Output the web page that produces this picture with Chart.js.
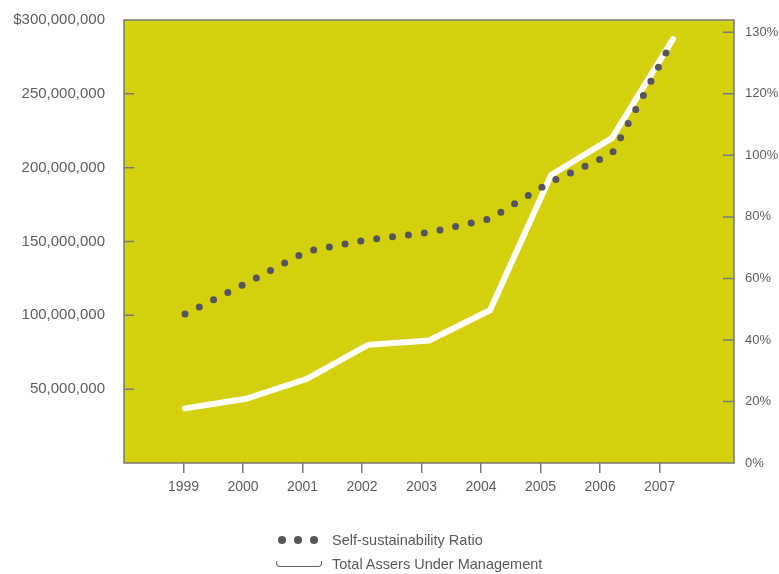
<!DOCTYPE html>
<html>
<head>
<meta charset="utf-8">
<script src="https://cdn.jsdelivr.net/npm/chart.js@4.4.1/dist/chart.umd.min.js"></script>
<style>
  body { margin: 0; background: #fff; }
  #wrap { position: relative; width: 779px; height: 574px; }
  #legend { position: absolute; left: 274px; top: 528px; font-family: "Liberation Sans", Arial, sans-serif; font-size: 14.5px; color: #5a5a5a; }
  .row { display: flex; align-items: center; height: 24px; }
  .sym { width: 58px; display: flex; align-items: center; }
  .dot { width: 8px; height: 8px; border-radius: 50%; background: #55555c; margin: 0 4px; }
  .bar { width: 44px; height: 5px; margin-left: 2px; border: 1.5px solid #666; border-top: none; border-radius: 0 0 4px 4px; background: #fff; }
</style>
</head>
<body>
<div id="wrap">
  <canvas id="chart"></canvas>
  <div id="legend">
    <div class="row"><div class="sym"><span class="dot"></span><span class="dot"></span><span class="dot"></span></div>Self-sustainability Ratio</div>
    <div class="row"><div class="sym"><span class="bar"></span></div>Total Assers Under Management</div>
  </div>
</div>
<script>
// data
const years = [1999, 2000, 2001, 2002, 2003, 2004, 2005, 2006, 2007];
const ratioPct = [48.4, 58.4, 68.8, 72.6, 74.9, 79.4, 91.4, 100.5, 137.5];
const assetsUsd = [37000000, 43500000, 57000000, 80000000, 83000000, 103500000, 195000000, 220000000, 287000000];

const leftTicks = [0, 50000000, 100000000, 150000000, 200000000, 250000000, 300000000];
const rightTicks = [0, 20, 40, 60, 80, 100, 120, 140];
const rightTickLabels = ['0%', '20%', '40%', '60%', '80%', '100%', '120%', '130%'];

const PLOT_BG = '#d4d00e';
const AXIS_GREY = '#787878';
const TEXT_GREY = '#5e5e5e';
const DOT_GREY = '#55555f';

const plotFrame = {
  id: 'plotFrame',
  beforeDraw(chart) {
    const { ctx, chartArea: a } = chart;
    ctx.save();
    ctx.fillStyle = PLOT_BG;
    ctx.fillRect(a.left, a.top, a.right - a.left, a.bottom - a.top);
    ctx.restore();
  },
  beforeDatasetsDraw(chart) {
    const { ctx, chartArea: a, scales } = chart;
    ctx.save();
    ctx.strokeStyle = AXIS_GREY;
    ctx.lineWidth = 1.5;
    ctx.strokeRect(a.left, a.top, a.right - a.left, a.bottom - a.top);
    // inward ticks on both value axes
    ctx.beginPath();
    scales.y.ticks.forEach(t => {
      if (t.value === 0 || t.value === scales.y.max) return;
      const py = scales.y.getPixelForValue(t.value);
      ctx.moveTo(a.left, py); ctx.lineTo(a.left + 10, py);
    });
    scales.y1.ticks.forEach(t => {
      if (t.value === 0) return;
      const py = scales.y1.getPixelForValue(t.value);
      ctx.moveTo(a.right - 11, py); ctx.lineTo(a.right, py);
    });
    ctx.stroke();
    ctx.restore();
  }
};

const FONT = '"Liberation Sans", Arial, sans-serif';

new Chart(document.getElementById('chart'), {
  type: 'line',
  data: {
    datasets: [
      {
        label: 'Self-sustainability Ratio',
        data: years.map((y, i) => ({ x: y, y: ratioPct[i] })),
        yAxisID: 'y1',
        borderColor: DOT_GREY,
        borderWidth: 7,
        borderCapStyle: 'round',
        borderDash: [0, 16],
        pointRadius: 0,
        tension: 0
      },
      {
        label: 'Total Assers Under Management',
        data: years.map((y, i) => ({ x: y, y: assetsUsd[i] })),
        yAxisID: 'y',
        borderColor: '#ffffff',
        borderWidth: 6,
        borderCapStyle: 'round',
        pointRadius: 0,
        tension: 0
      }
    ]
  },
  options: {
    responsive: true,
    maintainAspectRatio: false,
    animation: false,
    layout: { padding: { top: 17, left: 0, right: 0, bottom: 0 } },
    plugins: { legend: { display: false }, tooltip: { enabled: false } },
    scales: {
      x: { type: 'linear', min: 1998, max: 2008, display: false },
      xTicks: {
        type: 'linear', position: 'bottom', min: 1998, max: 2008.25,
        afterBuildTicks: s => { s.ticks = years.map(v => ({ value: v })); },
        afterFit: s => { s.height = 111; },
        grid: { drawOnChartArea: false, drawTicks: true, tickLength: 10, color: AXIS_GREY, lineWidth: 1.5 },
        border: { display: false },
        ticks: { color: TEXT_GREY, font: { family: FONT, size: 14 }, padding: 6, maxRotation: 0, callback: v => String(v) }
      },
      y: {
        position: 'left', min: 0, max: 300000000,
        afterBuildTicks: s => { s.ticks = leftTicks.map(v => ({ value: v })); },
        afterFit: s => { s.width = 124; },
        grid: { display: false },
        border: { display: false },
        ticks: {
          color: TEXT_GREY, font: { family: FONT, size: 15 }, padding: 11,
          callback: v => v === 0 ? '' : (v === 300000000 ? '$' : '') + v.toLocaleString('en-US')
        }
      },
      y1: {
        position: 'right', min: 0, max: 144,
        afterBuildTicks: s => { s.ticks = rightTicks.map(v => ({ value: v })); },
        afterFit: s => { s.width = 45; },
        grid: { display: false },
        border: { display: false },
        ticks: {
          color: TEXT_GREY, font: { family: FONT, size: 13 }, padding: 3,
          callback: v => rightTickLabels[rightTicks.indexOf(v)]
        }
      }
    }
  },
  plugins: [plotFrame]
});
</script>
</body>
</html>
